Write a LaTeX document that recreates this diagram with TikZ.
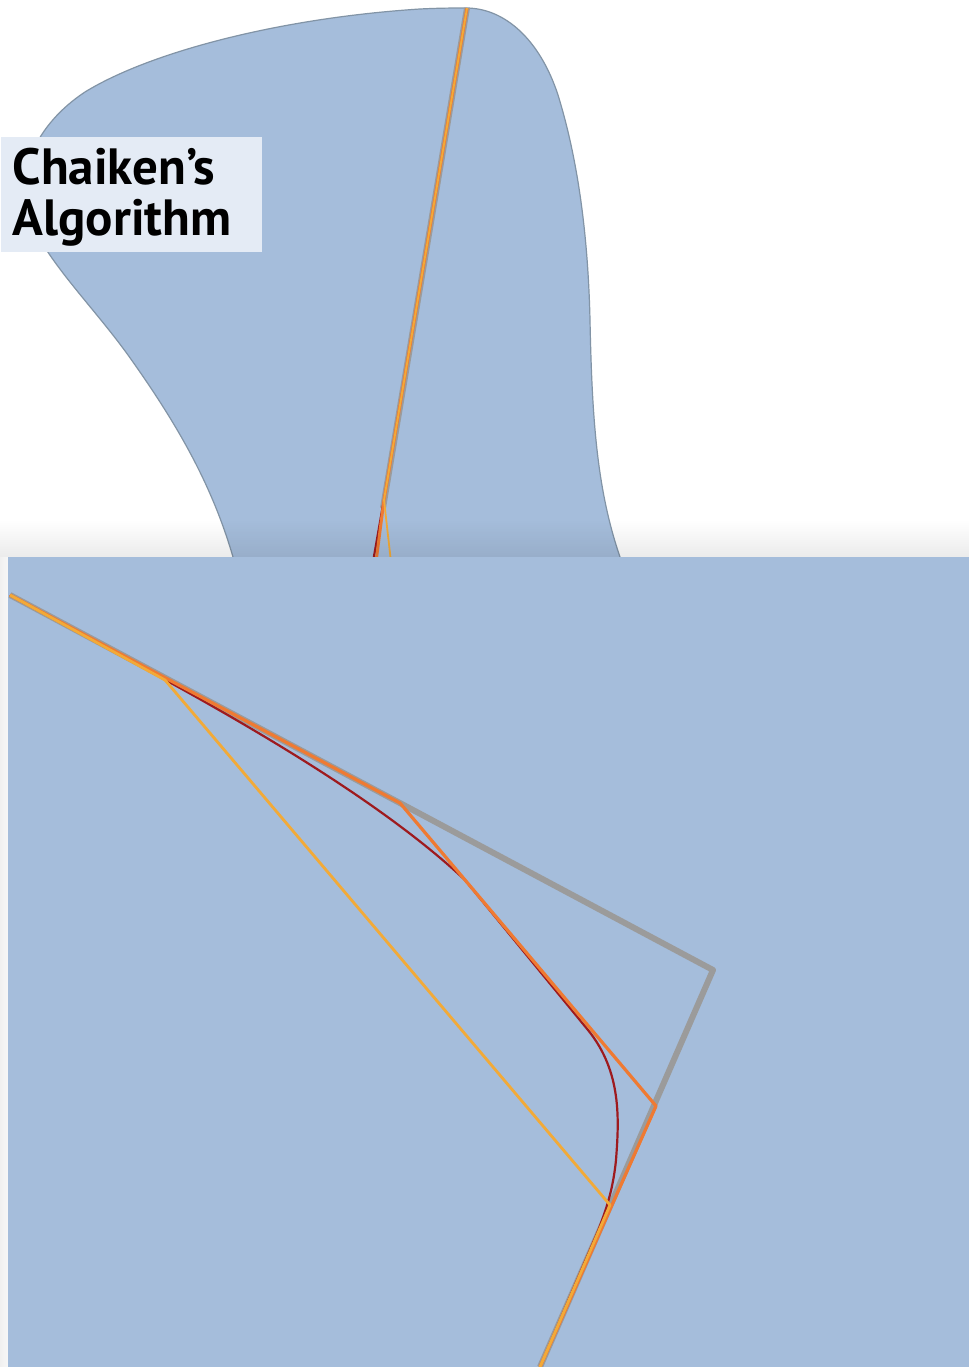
\documentclass[tikz,border=0pt]{standalone}
\usepackage{fontspec}
\usetikzlibrary{fadings}
\newfontfamily\labelfont{PT Sans}
\definecolor{blobblue}{HTML}{A5BDDB}
\definecolor{bloboutline}{HTML}{8294A6}
\definecolor{labelbg}{HTML}{E4EBF5}
\definecolor{polygray}{HTML}{9B9B9B}
\definecolor{iterorange}{HTML}{EF7A32}
\definecolor{iteryellow}{HTML}{F2AA38}
\definecolor{iterred}{HTML}{9E1A1E}
\tikzset{
  graypoly/.style={draw=polygray, line width=0.6mm, line join=round},
  orangepoly/.style={draw=iterorange, line width=0.32mm, line join=round},
  yellowpoly/.style={draw=iteryellow, line width=0.28mm, line join=round},
  redpoly/.style={draw=iterred, line width=0.22mm, line join=round},
  titlebox/.style={fill=labelbg, inner sep=0pt, minimum width=26.1mm, minimum height=11.5mm, anchor=north west},
}
\begin{document}
\begin{tikzpicture}[x=0.1mm, y=-0.1mm]
\useasboundingbox (0,0) rectangle (969,1367);
\fill[white] (0,0) rectangle (969,1367);
% blob
\filldraw[fill=blobblue, draw=bloboutline, line width=0.12mm]
  (466,8) .. controls (505,8) and (540,40) .. (558,95)
  .. controls (578,160) and (588,235) .. (590,320)
  .. controls (592,420) and (597,490) .. (620,557)
  -- (628,600) -- (245,600) -- (233,557)
  .. controls (212,485) and (178,425) .. (128,355)
  .. controls (92,305) and (45,260) .. (28,215)
  .. controls (15,175) and (35,125) .. (85,92)
  .. controls (150,52) and (280,18) .. (420,9)
  .. controls (440,8) and (455,8) .. (466,8) -- cycle;
% top lines
\draw[graypoly, line width=0.6mm] (467,8) -- (383,508);
\draw[redpoly] (383,505) -- (373,562);
\draw[orangepoly, line width=0.3mm] (467,8) -- (384,500) -- (376,562);
\draw[yellowpoly, line width=0.18mm] (467,8) -- (384,500) -- (391,562);
% shadow above panel
\fill[black, opacity=0.08, path fading=north] (0,520) rectangle (969,557);
\shade[left color=black!6, right color=black!3] (0,557) rectangle (8,1367);
% panel
\fill[blobblue] (8,557) rectangle (969,1367);
% polylines in panel
\draw[graypoly] (10,595) -- (713,970) -- (540,1367);
\draw[redpoly] (10,595) -- (162,678) .. controls (260,732) and (385,805) .. (465,880)
  -- (588,1030) .. controls (622,1072) and (619,1120) .. (616,1160)
  .. controls (613,1190) and (606,1210) .. (598,1231) -- (540,1367);
\draw[orangepoly] (10,595) -- (400,803) -- (656,1106) -- (540,1367);
\draw[yellowpoly] (10,595) -- (165,680) -- (610,1205) -- (540,1367);
% label
\node[titlebox] (title) at (0,136) {};
\node[anchor=north west, align=left, inner sep=0pt, font=\labelfont\bfseries\fontsize{14.5pt}{14.6pt}\selectfont] (titletext) at (12,147) {Chaiken’s\\Algorithm};
\end{tikzpicture}
\end{document}
